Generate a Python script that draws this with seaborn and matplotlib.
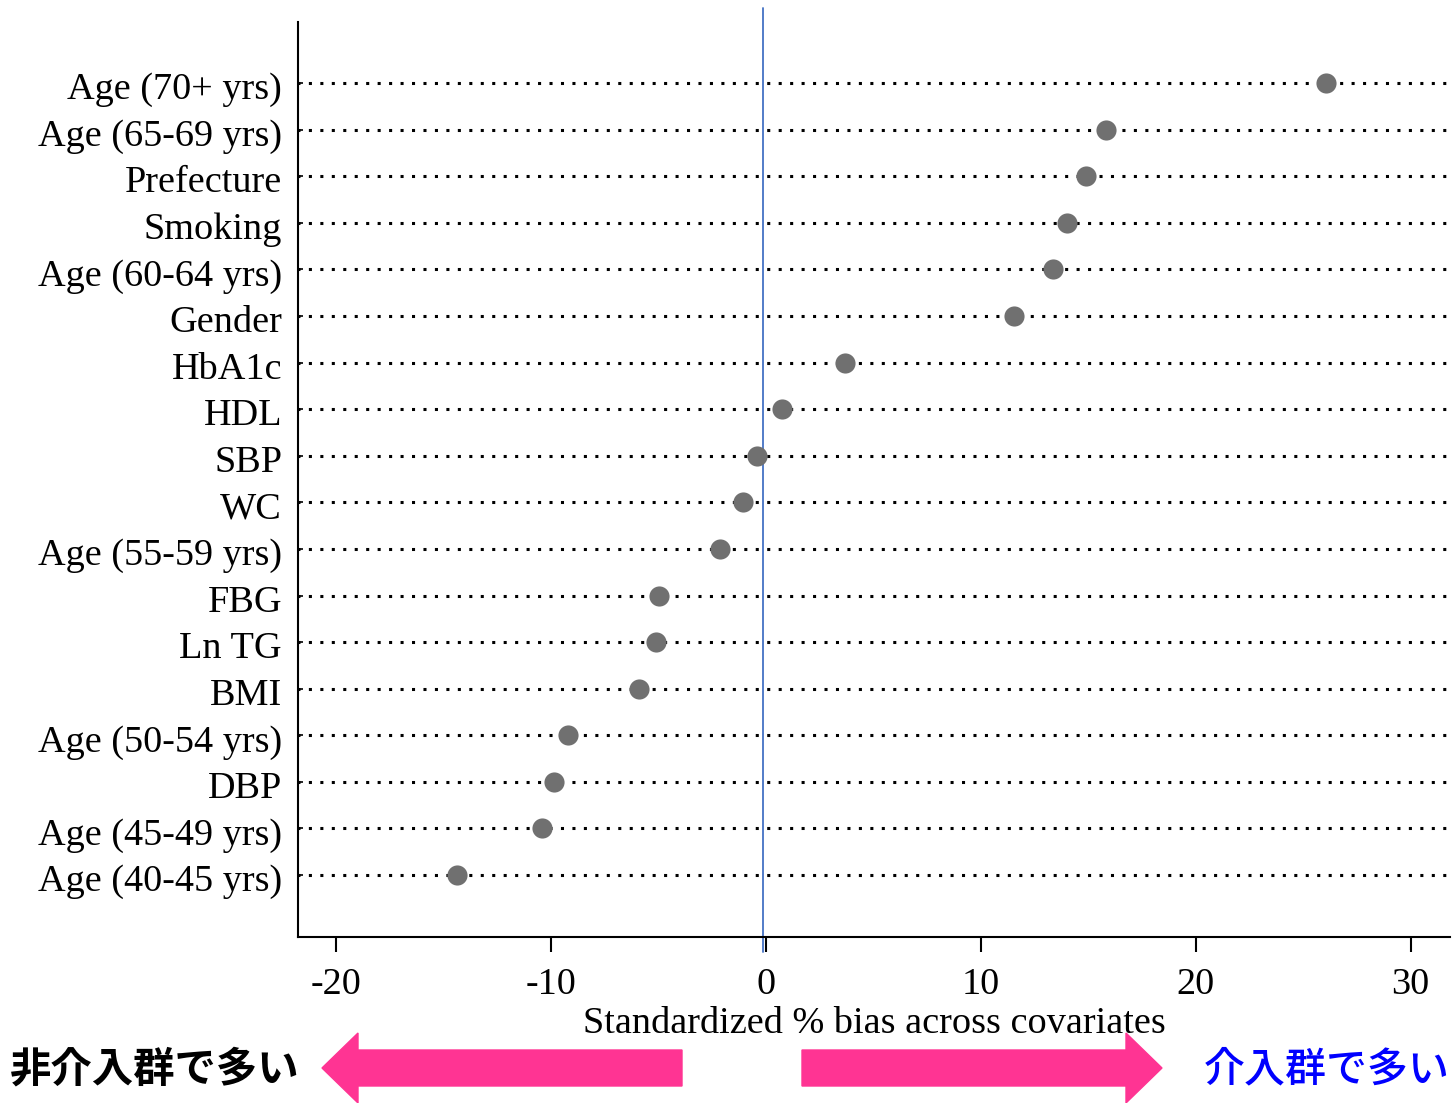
import numpy as np
import pandas as pd
import seaborn as sns
import matplotlib.pyplot as plt
from matplotlib.patches import FancyArrow
from matplotlib.transforms import ScaledTranslation

# covariates, top to bottom, and their standardized % bias
covariates = ["Age (70+ yrs)", "Age (65-69 yrs)", "Prefecture", "Smoking",
              "Age (60-64 yrs)", "Gender", "HbA1c", "HDL", "SBP", "WC",
              "Age (55-59 yrs)", "FBG", "Ln TG", "BMI", "Age (50-54 yrs)",
              "DBP", "Age (45-49 yrs)", "Age (40-45 yrs)"]
bias = [26.06, 15.83, 14.9, 14.01, 13.36, 11.55, 3.69, 0.76, -0.40, -1.06,
        -2.13, -4.96, -5.10, -5.89, -9.20, -9.85, -10.40, -14.36]
xticks = [-20, -10, 0, 10, 20, 30]

df = pd.DataFrame({"covariate": covariates, "bias": bias})

sns.set_theme(style="white")
plt.rcParams["font.family"] = ["Liberation Serif", "DejaVu Serif"]
plt.rcParams["axes.unicode_minus"] = False
plt.rcParams["axes.labelcolor"] = "black"
plt.rcParams["text.color"] = "black"

W, H = 1455, 1103
fig = plt.figure(figsize=(W / 100, H / 100), dpi=100)
ax = fig.add_axes([298 / W, 1 - 937 / H, (1450 - 298) / W, (937 - 22) / H])

# dotted guide lines across the whole width
ax.hlines(range(len(covariates)), -40, 40, colors="black", linewidth=2.2,
          linestyles=(0, (1, 2.75)), zorder=1)

sns.stripplot(data=df, x="bias", y="covariate", order=covariates,
              jitter=False, color="#707070", size=14.5, linewidth=0,
              ax=ax, zorder=3)

ax.axvline(-0.1, ymin=-0.016, ymax=1.015, color="#4472C4", linewidth=1.3,
           clip_on=False, zorder=2)

ax.set_xlim(-21.75, 31.83)
ax.set_ylim(len(covariates) - 1 + 1.33, -1.31)
ax.set_xticks(xticks)
ax.set_xticklabels([str(t) for t in xticks])
ax.set_ylabel("")
ax.set_xlabel("Standardized % bias across covariates", fontsize=27.5,
              labelpad=3, color="black")

for s in ["top", "right"]:
    ax.spines[s].set_visible(False)
for s in ["left", "bottom"]:
    ax.spines[s].set_linewidth(1.5)
    ax.spines[s].set_color("black")

ax.tick_params(axis="x", direction="out", length=11, width=1.5, pad=11,
               labelsize=27.5, bottom=True, colors="black")
ax.tick_params(axis="y", direction="in", length=3.6, width=1.2, pad=11.5,
               labelsize=27.5, left=True, colors="black")

# the category labels sit a touch lower in the reference
shift = ScaledTranslation(0, -3 / 100, fig.dpi_scale_trans)
for lab in ax.get_yticklabels():
    lab.set_transform(lab.get_transform() + shift)

# arrows under the axis
pink = "#FF3493"
fig.patches.append(FancyArrow(682 / W, 1 - 1068 / H, -(682 - 322) / W, 0,
                              width=36 / H, head_width=70 / H,
                              head_length=36 / W, length_includes_head=True,
                              color=pink, transform=fig.transFigure, figure=fig))
fig.patches.append(FancyArrow(802 / W, 1 - 1068 / H, (1162 - 802) / W, 0,
                              width=36 / H, head_width=70 / H,
                              head_length=36 / W, length_includes_head=True,
                              color=pink, transform=fig.transFigure, figure=fig))

fig.text(10 / W, 1 - 1070 / H, "非介入群で多い", ha="left", va="center",
         fontsize=29.8, fontweight="bold", color="black",
         family=["Noto Sans CJK JP", "DejaVu Sans"])
fig.text(1450 / W, 1 - 1070 / H, "介入群で多い", ha="right", va="center",
         fontsize=29.5, fontweight="medium", color="#0000FF",
         family=["Noto Sans CJK JP", "DejaVu Sans"])

fig.savefig("out.png", dpi=100)
